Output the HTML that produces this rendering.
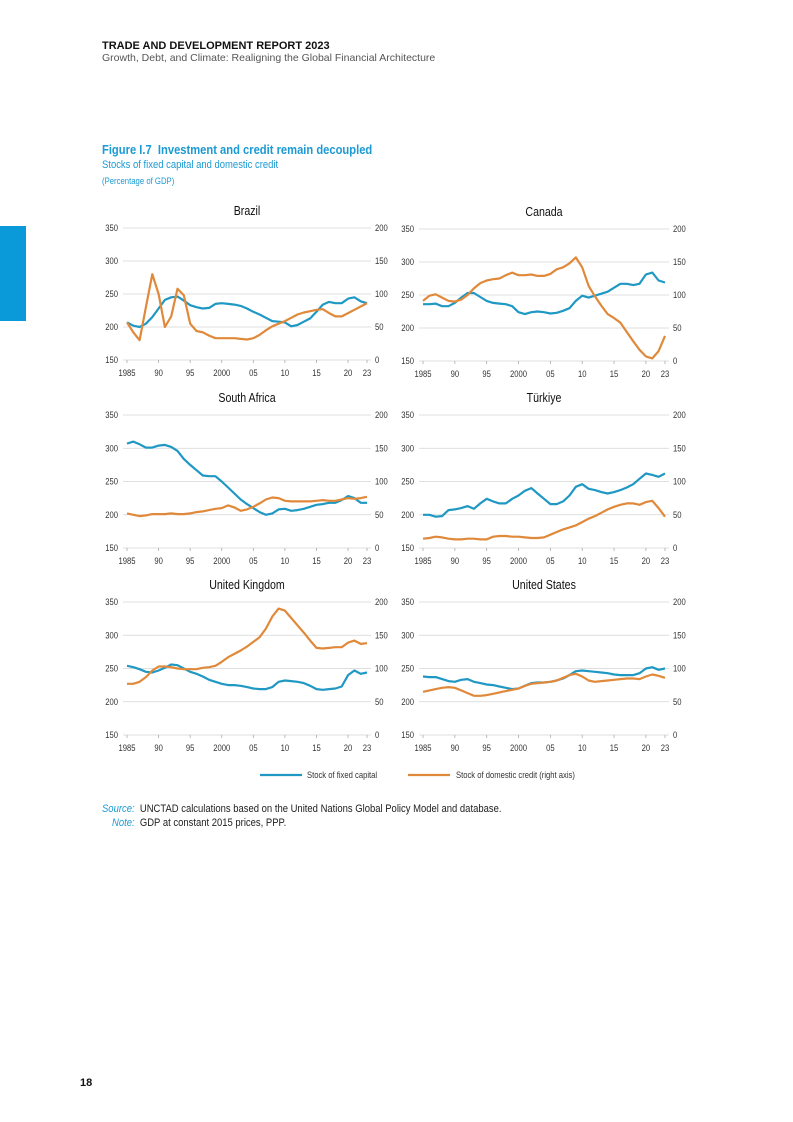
<!DOCTYPE html>
<html><head><meta charset="utf-8">
<style>
body{margin:0;background:#fff;}
#page{position:relative;width:793px;height:1122px;overflow:hidden;background:#fff;font-family:"Liberation Sans",sans-serif;}
.t{position:absolute;white-space:nowrap;}
.n{transform:scaleX(0.86);transform-origin:0 0;}
svg text{font-family:"Liberation Sans",sans-serif;}
</style></head>
<body>
<div id="page">
<div class="t" style="left:102px;top:40px;font-size:11px;font-weight:bold;color:#111;">TRADE AND DEVELOPMENT REPORT 2023</div>
<div class="t" style="left:102px;top:52px;font-size:10.5px;color:#555;">Growth, Debt, and Climate: Realigning the Global Financial Architecture</div>
<div style="position:absolute;left:0;top:226px;width:26px;height:95px;background:#0a9ad9;"></div>
<div class="t n" style="left:102px;top:142px;font-size:13px;font-weight:bold;color:#1b9ad3;">Figure I.7&nbsp; Investment and credit remain decoupled</div>
<div class="t n" style="left:102px;top:159px;font-size:11px;color:#1b9ad3;">Stocks of fixed capital and domestic credit</div>
<div class="t n" style="left:102px;top:176px;font-size:9px;color:#1b9ad3;">(Percentage of GDP)</div>
<svg id="charts" width="793" height="800" style="position:absolute;left:0;top:0;"></svg>
<div class="t n" style="left:102px;top:803px;font-size:11px;color:#222;"><i style="color:#1b9ad3">Source:</i>&nbsp; UNCTAD calculations based on the United Nations Global Policy Model and database.</div>
<div class="t n" style="left:112px;top:817px;font-size:11px;color:#222;"><i style="color:#1b9ad3">Note:</i>&nbsp; GDP at constant 2015 prices, PPP.</div>
<div class="t" style="left:80px;top:1077px;font-size:11px;font-weight:bold;color:#111;">18</div>
</div>
<script>
const years=[];for(let y=1985;y<=2023;y++)years.push(y);
const xTickYears=[1985,1990,1995,2000,2005,2010,2015,2020,2023];
const xTickLabels=["1985","90","95","2000","05","10","15","20","23"];
const leftTicks=[150,200,250,300,350];
const rightTicks=[0,50,100,150,200];
const countries=["Brazil","Canada","South Africa","Türkiye","United Kingdom","United States"];
const brazilCapital=[207,202,200,205,215,228,241,245,246,240,233,230,228,229,235,236,235,234,232,228,223,219,214,209,208,207,201,203,208,213,223,234,238,236,236,243,245,239,236];
const brazilCredit=[57,42,30,80,130,100,50,66,108,98,55,44,42,37,33,33,33,33,32,31,33,38,45,51,55,59,64,69,72,74,76,77,71,66,66,71,76,81,86];
const canadaCapital=[236,236,237,233,233,238,246,253,253,247,241,238,237,236,233,224,221,224,225,224,222,223,226,230,241,249,246,249,252,255,261,267,267,265,267,281,284,272,269];
const canadaCredit=[91,99,101,96,91,90,93,100,110,118,122,124,125,130,134,130,130,131,129,129,132,139,142,148,157,142,114,98,84,71,65,58,44,30,17,7,4,15,38];
const safricaCapital=[307,310,306,301,301,304,305,302,296,284,275,267,259,258,258,250,241,232,223,216,210,204,200,202,208,209,206,207,209,212,215,216,218,218,222,228,225,218,218];
const safricaCredit=[52,50,48,49,51,51,51,52,51,51,52,54,55,57,59,60,64,61,56,58,62,67,73,76,75,71,70,70,70,70,71,72,71,71,73,75,74,75,77];
const turkiyeCapital=[200,200,197,198,207,208,210,213,209,217,224,220,217,217,224,229,236,240,232,224,216,216,220,229,242,246,239,237,234,232,234,237,241,246,254,262,260,257,262];
const turkiyeCredit=[14,15,17,16,14,13,13,14,14,13,13,17,18,18,17,17,16,15,15,16,20,24,28,31,34,39,44,48,53,58,62,65,67,67,65,69,71,60,47];
const ukCapital=[254,252,249,245,244,247,251,256,255,250,245,242,238,233,230,227,225,225,224,222,220,219,219,222,230,232,231,230,228,224,219,218,219,220,223,240,247,242,244];
const ukCredit=[77,77,80,87,97,103,103,102,100,99,99,99,101,102,104,110,117,122,127,133,140,147,160,178,190,187,176,165,154,142,131,130,131,132,132,139,142,137,138];
const usCapital=[238,237,237,234,231,230,233,234,230,228,226,225,223,221,219,220,224,228,229,229,230,232,235,240,246,247,246,245,244,243,241,240,240,240,243,250,252,248,250];
const usCredit=[65,67,69,71,72,71,67,63,59,59,60,62,64,66,68,70,74,77,78,79,80,82,86,90,92,88,82,80,81,82,83,84,85,85,84,88,91,89,86];
const capitalSeries=[brazilCapital,canadaCapital,safricaCapital,turkiyeCapital,ukCapital,usCapital];
const creditSeries=[brazilCredit,canadaCredit,safricaCredit,turkiyeCredit,ukCredit,usCredit];

const NS="http://www.w3.org/2000/svg";
const svg=document.getElementById('charts');
const BLUE="#1f98c4",ORANGE="#e0893a";
function mk(tag,attrs,parent){const e=document.createElementNS(NS,tag);for(const k in attrs)e.setAttribute(k,attrs[k]);parent.appendChild(e);return e;}
function nt(x,y,anchor,size,str,parent,color){
  // condensed text via scaleX around anchor point
  const t=mk('text',{x:0,y:0,'text-anchor':anchor,'font-size':size,fill:color||'#333',transform:'translate('+x+','+y+') scale(0.85,1)'},parent);
  t.textContent=str;return t;
}
const panels=[{x0:127,x1:367,y0:228,y1:360},{x0:423,x1:665,y0:229,y1:361},
{x0:127,x1:367,y0:415,y1:548},{x0:423,x1:665,y0:415,y1:548},
{x0:127,x1:367,y0:602,y1:735},{x0:423,x1:665,y0:602,y1:735}];
panels.forEach((p,i)=>{
  const g=mk('g',{},svg);
  
  
  const xs=y=>p.x0+(y-1985)/(2023-1985)*(p.x1-p.x0);
  const yl=v=>p.y1-(v-150)/200*(p.y1-p.y0);
  const yr=v=>p.y1-v/200*(p.y1-p.y0);
  const title=nt((p.x0+p.x1)/2,p.y0-13,'middle',12.5,countries[i],g,'#111');
  
  
  leftTicks.forEach((t,k)=>{
    const y=yl(t);
    const gl=mk('line',{x1:p.x0-4,x2:p.x1+4,y1:y,y2:y,stroke:'#d4d4d4','stroke-width':0.8},g);
    
    
    const lt=nt(p.x0-9,y+3,'end',9,String(t),g);
    
    
    const rt=nt(p.x1+8,y+3,'start',9,String(rightTicks[k]),g);
    
    
  });
  xTickYears.forEach((yy,k)=>{
    const x=xs(yy);
    mk('line',{x1:x,x2:x,y1:p.y1,y2:p.y1+3,stroke:'#aaa','stroke-width':0.8},g);
    const xt=nt(x,p.y1+16,'middle',9,xTickLabels[k],g);
    
    
  });
  const cp=mk('polyline',{points:capitalSeries[i].map((v,k)=>xs(years[k]).toFixed(1)+','+yl(v).toFixed(1)).join(' '),fill:'none',stroke:BLUE,'stroke-width':2.2,'stroke-linejoin':'round'},g);
  
  
  const cr=mk('polyline',{points:creditSeries[i].map((v,k)=>xs(years[k]).toFixed(1)+','+yr(v).toFixed(1)).join(' '),fill:'none',stroke:ORANGE,'stroke-width':2.2,'stroke-linejoin':'round'},g);
  
  
});
const lg=mk('g',{},svg);


mk('line',{x1:260,x2:302,y1:775,y2:775,stroke:BLUE,'stroke-width':2.2},lg);
const l1=nt(307,778,'start',9,'Stock of fixed capital',lg);


mk('line',{x1:408,x2:450,y1:775,y2:775,stroke:ORANGE,'stroke-width':2.2},lg);
const l2=nt(456,778,'start',9,'Stock of domestic credit (right axis)',lg);


</script>
</body></html>
